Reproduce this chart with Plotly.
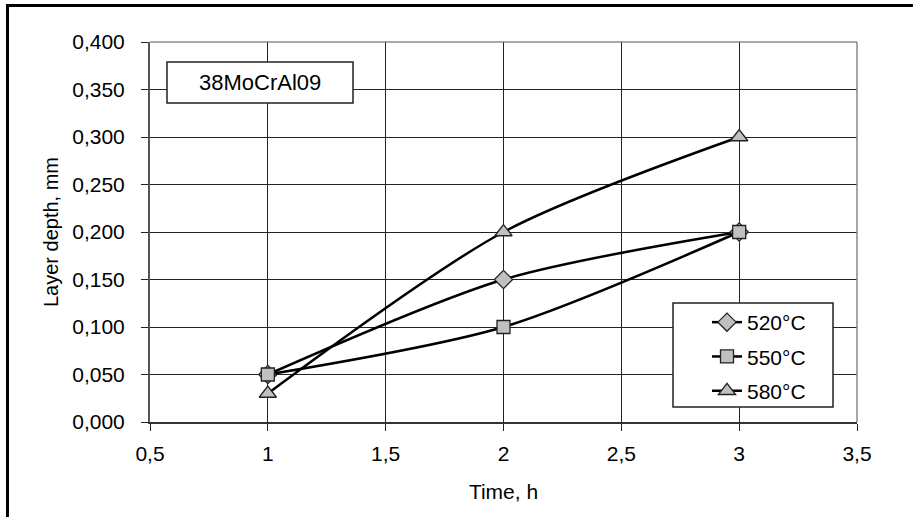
import plotly.graph_objects as go

time_h = [1, 2, 3]
depth_520 = [0.05, 0.15, 0.20]
depth_550 = [0.05, 0.10, 0.20]
depth_580 = [0.03, 0.20, 0.30]
series_names = ["520°C", "550°C", "580°C"]
symbols = ["diamond", "square", "triangle-up"]
sizes = [14, 13, 15]

FONT = "Liberation Sans, Arial, sans-serif"
fig = go.Figure()
for i, (name, ys, sym, sz) in enumerate(zip(series_names, [depth_520, depth_550, depth_580], symbols, sizes)):
    fig.add_trace(go.Scatter(
        x=time_h, y=ys, name=name, mode="lines+markers", legendgroup=f"g{i}",
        line=dict(color="black", width=2.5, shape="spline", smoothing=0.8),
        marker=dict(symbol=sym, size=sz, color="#c0c0c0",
                    line=dict(color="#222222", width=1.3)),
    ))

L, R, T, B = 150, 56, 42, 95
W, H = 913 - L - R, 517 - T - B

def px(x):
    return (x - L) / W

def py(y):
    return (517 - B - y) / H

fig.update_layout(
    width=913, height=517,
    margin=dict(l=L, r=R, t=T, b=B),
    paper_bgcolor="white", plot_bgcolor="white",
    separators=",.",
    font=dict(family=FONT, size=21, color="black"),
    showlegend=True,
    legend=dict(x=px(707), y=py(302), xanchor="left", yanchor="top",
                bgcolor="rgba(0,0,0,0)", borderwidth=0,
                font=dict(family=FONT, size=21), tracegroupgap=4,
                itemwidth=30),
    xaxis=dict(range=[0.5, 3.5], dtick=0.5, tick0=0.5,
               showgrid=True, gridcolor="#222222", gridwidth=1,
               showline=True, linecolor="#333333", linewidth=2, mirror=False,
               ticks="outside", ticklen=7, tickcolor="#222222",
               ticklabelstandoff=5,
               zeroline=False, fixedrange=True,
               title=dict(text="Time, h", font=dict(family=FONT, size=21), standoff=20),
               tickfont=dict(family=FONT, size=21)),
    yaxis=dict(range=[0, 0.4], dtick=0.05, tickformat=".3f",
               showgrid=True, gridcolor="#222222", gridwidth=1,
               showline=True, linecolor="#555555", linewidth=2,
               ticks="outside", ticklen=7, tickcolor="#222222",
               ticklabelstandoff=12,
               zeroline=False, fixedrange=True,
               title=dict(text="Layer depth, mm", font=dict(family=FONT, size=20), standoff=8),
               tickfont=dict(family=FONT, size=21)),
    shapes=[
        dict(type="line", xref="paper", yref="paper", x0=1, x1=1, y0=0, y1=1,
             line=dict(color="#888888", width=1.5)),
        dict(type="line", xref="paper", yref="paper", x0=0, x1=1, y0=1, y1=1,
             line=dict(color="#555555", width=1)),
        dict(type="rect", xref="paper", yref="paper",
             x0=px(7.5), x1=px(930), y0=py(5.5), y1=py(540),
             line=dict(color="black", width=3), fillcolor="rgba(0,0,0,0)"),
        dict(type="rect", xref="paper", yref="paper",
             x0=px(167), x1=px(353), y0=py(62), y1=py(103),
             line=dict(color="#222222", width=1.5), fillcolor="white"),
        dict(type="rect", xref="paper", yref="paper", layer="above",
             x0=px(673), x1=px(833), y0=py(303), y1=py(407),
             line=dict(color="#222222", width=1.5), fillcolor="white"),
    ],
    annotations=[
        dict(text="38MoCrAl09", xref="paper", yref="paper", x=px(260), y=py(82.5),
             showarrow=False, xanchor="center", yanchor="middle",
             font=dict(family=FONT, size=22, color="black")),
    ],
)

fig.write_html("out.html")
